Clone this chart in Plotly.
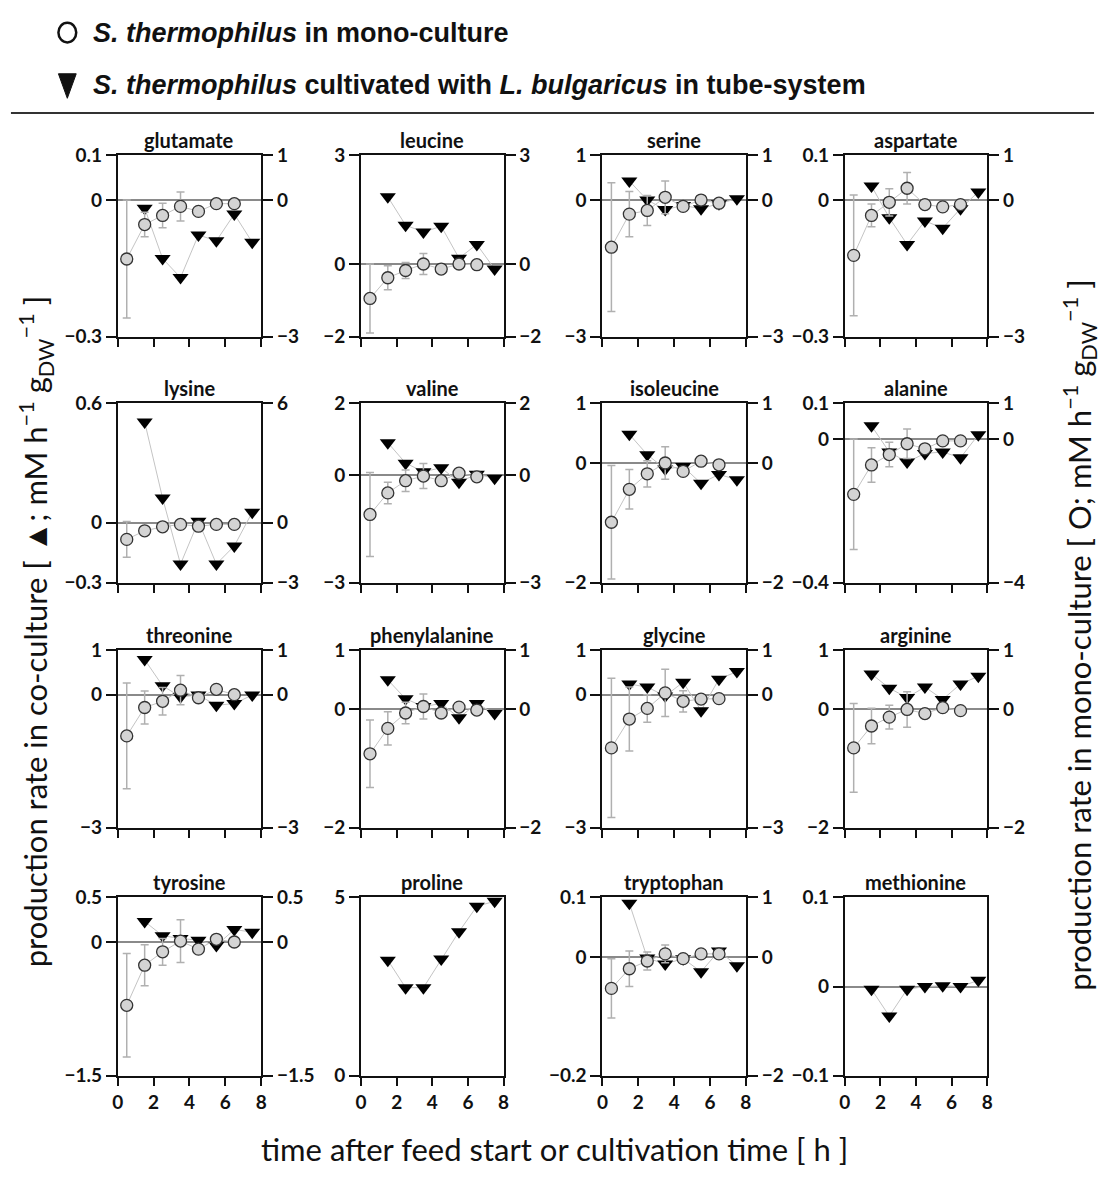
import plotly.graph_objects as go

# ---- data -------------------------------------------------------------
amino_acids = ["glutamate", "leucine", "serine", "aspartate",
               "lysine", "valine", "isoleucine", "alanine",
               "threonine", "phenylalanine", "glycine", "arginine",
               "tyrosine", "proline", "tryptophan", "methionine"]

t_mono = [0.5, 1.5, 2.5, 3.5, 4.5, 5.5, 6.5]
t_co = [1.5, 2.5, 3.5, 4.5, 5.5, 6.5, 7.5]

# co-culture production rates (left axis, triangles)
co_rate = {
    "glutamate": [-0.017, -0.128, -0.17, -0.076, -0.089, -0.03, -0.092],
    "leucine": [1.85, 1.07, 0.88, 1.04, 0.16, 0.54, -0.14],
    "serine": [0.43, 0.01, -0.2, -0.11, -0.18, -0.07, 0.04],
    "aspartate": [0.032, -0.038, -0.097, -0.045, -0.061, -0.018, 0.019],
    "lysine": [0.506, 0.124, -0.207, 0.008, -0.207, -0.116, 0.053],
    "valine": [0.9, 0.33, 0.09, 0.2, -0.2, 0.02, -0.09],
    "isoleucine": [0.48, 0.14, -0.1, -0.06, -0.34, -0.19, -0.28],
    "alanine": [0.037, -0.036, -0.064, -0.04, -0.036, -0.052, 0.012],
    "threonine": [0.79, 0.2, -0.05, -0.01, -0.24, -0.2, -0.01],
    "phenylalanine": [0.5, 0.18, 0.05, 0.1, -0.14, 0.1, -0.07],
    "glycine": [0.24, 0.17, -0.03, 0.28, -0.36, 0.35, 0.52],
    "arginine": [0.6, 0.36, 0.2, 0.38, 0.17, 0.43, 0.56],
    "tyrosine": [0.23, 0.07, 0.04, 0.02, -0.04, 0.14, 0.11],
    "proline": [3.24, 2.47, 2.47, 3.27, 4.04, 4.75, 4.89],
    "tryptophan": [0.09, -0.002, -0.012, -0.003, -0.025, 0.01, -0.015],
    "methionine": [-0.003, -0.033, -0.003, 0.0, 0.001, 0.0, 0.007],
}

# mono-culture production rates (right axis, circles) and their errors
mono_rate = {
    "glutamate": [-1.29, -0.53, -0.33, -0.13, -0.24, -0.07, -0.07],
    "leucine": [-0.95, -0.38, -0.18, 0.0, -0.14, 0.0, -0.02],
    "serine": [-1.03, -0.30, -0.22, 0.07, -0.13, 0.01, -0.06],
    "aspartate": [-1.21, -0.33, -0.04, 0.27, -0.09, -0.14, -0.09],
    "lysine": [-0.83, -0.4, -0.2, -0.08, -0.17, -0.08, -0.08],
    "valine": [-1.1, -0.5, -0.16, -0.03, -0.16, 0.05, -0.05],
    "isoleucine": [-0.99, -0.44, -0.18, 0.0, -0.14, 0.03, -0.03],
    "alanine": [-1.54, -0.72, -0.43, -0.13, -0.27, -0.05, -0.05],
    "threonine": [-0.93, -0.29, -0.15, 0.1, -0.07, 0.12, 0.0],
    "phenylalanine": [-0.75, -0.32, -0.06, 0.05, -0.06, 0.04, -0.01],
    "glycine": [-1.2, -0.55, -0.31, 0.04, -0.15, -0.1, -0.09],
    "arginine": [-0.65, -0.28, -0.13, 0.0, -0.07, 0.03, -0.02],
    "tyrosine": [-0.71, -0.26, -0.11, 0.01, -0.08, 0.03, 0.0],
    "proline": None,
    "tryptophan": [-0.53, -0.2, -0.07, 0.05, -0.03, 0.05, 0.05],
    "methionine": None,
}
mono_err = {
    "glutamate": [1.3, 0.27, 0.27, 0.32, 0.08, 0.04, 0.04],
    "leucine": [0.95, 0.33, 0.22, 0.29, 0.06, 0.04, 0.04],
    "serine": [1.42, 0.5, 0.33, 0.36, 0.1, 0.04, 0.04],
    "aspartate": [1.33, 0.25, 0.3, 0.35, 0.06, 0.05, 0.05],
    "lysine": [0.9, 0.08, 0.06, 0.05, 0.05, 0.04, 0.04],
    "valine": [1.17, 0.3, 0.3, 0.35, 0.06, 0.05, 0.05],
    "isoleucine": [0.95, 0.33, 0.22, 0.27, 0.05, 0.04, 0.04],
    "alanine": [1.54, 0.48, 0.34, 0.41, 0.08, 0.05, 0.05],
    "threonine": [1.19, 0.37, 0.31, 0.33, 0.06, 0.05, 0.05],
    "phenylalanine": [0.57, 0.28, 0.18, 0.21, 0.05, 0.04, 0.04],
    "glycine": [1.57, 0.72, 0.31, 0.53, 0.24, 0.05, 0.05],
    "arginine": [0.75, 0.3, 0.2, 0.3, 0.05, 0.04, 0.04],
    "tyrosine": [0.58, 0.23, 0.15, 0.24, 0.05, 0.04, 0.04],
    "proline": None,
    "tryptophan": [0.5, 0.3, 0.15, 0.15, 0.05, 0.04, 0.04],
    "methionine": None,
}

# axis ranges (left: co-culture, right: mono-culture)
left_range = {
    "glutamate": (-0.3, 0.1), "leucine": (-2, 3), "serine": (-3, 1),
    "aspartate": (-0.3, 0.1), "lysine": (-0.3, 0.6), "valine": (-3, 2),
    "isoleucine": (-2, 1), "alanine": (-0.4, 0.1), "threonine": (-3, 1),
    "phenylalanine": (-2, 1), "glycine": (-3, 1), "arginine": (-2, 1),
    "tyrosine": (-1.5, 0.5), "proline": (0, 5), "tryptophan": (-0.2, 0.1),
    "methionine": (-0.1, 0.1),
}
right_range = {
    "glutamate": (-3, 1), "leucine": (-2, 3), "serine": (-3, 1),
    "aspartate": (-3, 1), "lysine": (-3, 6), "valine": (-3, 2),
    "isoleucine": (-2, 1), "alanine": (-4, 1), "threonine": (-3, 1),
    "phenylalanine": (-2, 1), "glycine": (-3, 1), "arginine": (-2, 1),
    "tyrosine": (-1.5, 0.5), "proline": None, "tryptophan": (-2, 1),
    "methionine": None,
}
x_ticks = [0, 2, 4, 6, 8]

# ---- layout geometry (pixels) -----------------------------------------
W, H = 1104, 1178
col_px = [(113, 258), (359, 503), (603, 748), (848, 992)]
row_px = [(146, 331), (399, 582), (651, 832), (903, 1085)]

BASE = "Lato, Open Sans, sans-serif"
TICK_FONT = dict(family=BASE, size=19, color="#111", weight="bold")
AXIS_COLOR = "#111"
LINK_COLOR = "#c4c4c4"


def fmt(v):
    return ("%g" % v).replace("-", "\u2212")


def ticks_for(lo, hi):
    vals = [lo, 0, hi] if lo < 0 < hi else [lo, hi]
    return vals, [fmt(v) for v in vals]


fig = go.Figure()
layout = dict(
    width=W, height=H,
    margin=dict(l=0, r=0, t=0, b=0),
    paper_bgcolor="white", plot_bgcolor="white",
    showlegend=False,
)
annotations = []

n = len(amino_acids)
for i, name in enumerate(amino_acids):
    k = i + 1
    r, c = divmod(i, 4)
    x0, x1 = col_px[c]
    y0, y1 = row_px[r]
    xdom = [x0 / W, x1 / W]
    ydom = [1 - y1 / H, 1 - y0 / H]
    xa = "x" if k == 1 else f"x{k}"
    ya = "y" if k == 1 else f"y{k}"
    ya2 = f"y{n + k}"
    has_right = right_range[name] is not None

    layout[f"xaxis{k}"] = dict(
        domain=xdom, range=[0, 8], anchor=ya,
        tickvals=x_ticks, ticktext=[fmt(v) for v in x_ticks],
        showticklabels=(r == 3),
        ticks="outside", ticklen=8, tickwidth=2, tickcolor=AXIS_COLOR,
        showline=True, linecolor=AXIS_COLOR, linewidth=2, mirror=True,
        showgrid=False, zeroline=False, tickfont=TICK_FONT, fixedrange=True,
    )
    lo, hi = left_range[name]
    tv, tt = ticks_for(lo, hi)
    layout[f"yaxis{k}"] = dict(
        domain=ydom, range=[lo, hi], anchor=xa, tickvals=tv, ticktext=tt,
        ticks="outside", ticklen=10, tickwidth=2, tickcolor=AXIS_COLOR,
        showline=True, linecolor=AXIS_COLOR, linewidth=2,
        mirror=(not has_right), showgrid=False, zeroline=True,
        zerolinecolor="#8a8a8a", zerolinewidth=1.5, tickfont=TICK_FONT,
        fixedrange=True,
    )
    if has_right:
        rlo, rhi = right_range[name]
        rtv, rtt = ticks_for(rlo, rhi)
        layout[f"yaxis{n + k}"] = dict(
            overlaying=ya, side="right", anchor=xa, range=[rlo, rhi],
            tickvals=rtv, ticktext=rtt, ticks="outside", ticklen=10,
            tickwidth=2, tickcolor=AXIS_COLOR, showline=True,
            linecolor=AXIS_COLOR, linewidth=2, showgrid=False,
            zeroline=False, tickfont=TICK_FONT, fixedrange=True,
        )

    # co-culture (triangles, left axis)
    fig.add_trace(go.Scatter(
        x=t_co, y=co_rate[name], xaxis=xa, yaxis=ya,
        mode="lines+markers", cliponaxis=False,
        line=dict(color=LINK_COLOR, width=1),
        marker=dict(symbol="triangle-down", size=14, color="black"),
        hoverinfo="skip",
    ))
    # mono-culture (circles with error bars, right axis)
    if has_right:
        fig.add_trace(go.Scatter(
            x=t_mono, y=mono_rate[name], xaxis=xa, yaxis=ya2,
            mode="lines+markers", cliponaxis=False,
            line=dict(color=LINK_COLOR, width=1),
            marker=dict(symbol="circle", size=12, color="#d4d4d4",
                        line=dict(color="#333", width=1.3)),
            error_y=dict(type="data", array=mono_err[name], visible=True,
                         color="#b0b0b0", thickness=1.5, width=4),
            hoverinfo="skip",
        ))

    annotations.append(dict(
        text=f"<b>{name}</b>", xref="paper", yref="paper",
        x=(xdom[0] + xdom[1]) / 2, y=ydom[1], yanchor="bottom",
        xanchor="center", yshift=1, showarrow=False,
        font=dict(family=BASE, size=20, color="#111"),
    ))

# axis titles
TITLE_FONT = dict(family=BASE, size=31, color="#111")
annotations.append(dict(
    text="production rate in co-culture [ \u25b2; mM h<sup>\u22121</sup> g<sub>DW</sub><sup>\u22121</sup> ]",
    xref="paper", yref="paper", x=30 / W, y=1 - 632 / H, textangle=-90,
    xanchor="center", yanchor="middle", showarrow=False, font=TITLE_FONT,
))
annotations.append(dict(
    text="production rate in mono-culture [ O; mM h<sup>\u22121</sup> g<sub>DW</sub><sup>\u22121</sup> ]",
    xref="paper", yref="paper", x=1085 / W, y=1 - 635 / H, textangle=-90,
    xanchor="center", yanchor="middle", showarrow=False, font=TITLE_FONT,
))
annotations.append(dict(
    text="time after feed start or cultivation time [ h ]",
    xref="paper", yref="paper", x=555 / W, y=1 - 1160 / H,
    xanchor="center", yanchor="middle", showarrow=False, font=TITLE_FONT,
))

# legend header
LEG_FONT = dict(family="Liberation Sans, Arial, sans-serif", size=27, color="#111")
annotations.append(dict(
    text="<b><i>S. thermophilus</i> in mono-culture</b>",
    xref="paper", yref="paper", x=86 / W, y=1 - 21 / H,
    xanchor="left", yanchor="middle", showarrow=False, font=LEG_FONT,
))
annotations.append(dict(
    text="<b><i>S. thermophilus</i> cultivated with <i>L. bulgaricus</i> in tube-system</b>",
    xref="paper", yref="paper", x=86 / W, y=1 - 74 / H,
    xanchor="left", yanchor="middle", showarrow=False, font=LEG_FONT,
))

shapes = [
    dict(type="circle", xref="paper", yref="paper",
         x0=53 / W, x1=71 / W, y0=1 - 31 / H, y1=1 - 11 / H,
         line=dict(color="#111", width=2.5), fillcolor="white"),
    dict(type="path", xref="paper", yref="paper",
         path=f"M {53 / W},{1 - 63 / H} L {71 / W},{1 - 63 / H} L {62 / W},{1 - 88 / H} Z",
         line=dict(color="#111", width=1), fillcolor="#111"),
    dict(type="line", xref="paper", yref="paper",
         x0=5 / W, x1=1100 / W, y0=1 - 103 / H, y1=1 - 103 / H,
         line=dict(color="#333", width=2)),
]

layout["annotations"] = annotations
layout["shapes"] = shapes
fig.update_layout(**layout)
fig.write_html("out.html")
